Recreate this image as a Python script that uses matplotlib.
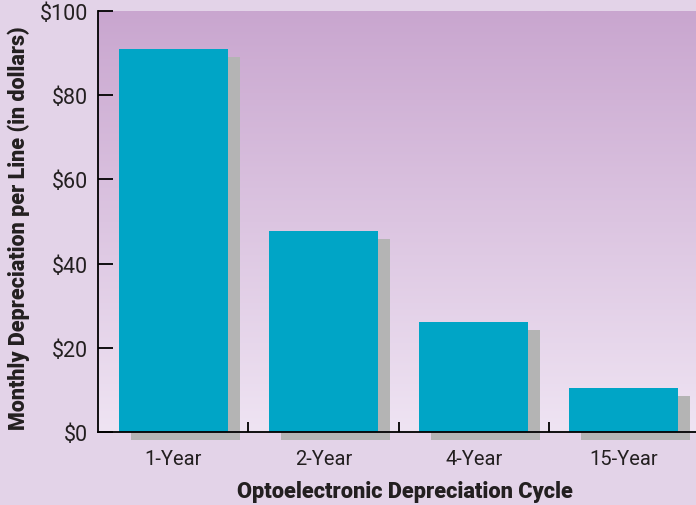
import numpy as np
import matplotlib
matplotlib.use("Agg")
from matplotlib import pyplot as plt
from matplotlib.colors import LinearSegmentedColormap

categories = ["1-Year", "2-Year", "4-Year", "15-Year"]
values = [91, 47.7, 26.1, 10.5]
y_ticks = [0, 20, 40, 60, 80, 100]
y_tick_labels = ["$0", "$20", "$40", "$60", "$80", "$100"]

TEAL = "#00a5c6"
SHADOW = "#b4b4b4"
FIG_BG = "#e3d3e8"
INK = "#231f20"

plt.rcParams["font.family"] = ["Roboto", "DejaVu Sans"]


def main():
    fig = plt.figure(figsize=(6.96, 5.06), dpi=100, facecolor=FIG_BG)
    ax = fig.add_axes([98 / 696, 73 / 506, 598 / 696, 421 / 506])
    ax.set_facecolor("none")

    # vertical gradient behind the bars
    cmap = LinearSegmentedColormap.from_list("bg", ["#efe4f3", "#c9a6cf"])
    grad = np.linspace(0, 1, 256).reshape(-1, 1)
    ax.imshow(grad, cmap=cmap, aspect="auto", origin="lower",
              extent=[0, 1, 0, 1], transform=ax.transAxes, zorder=0)

    x = np.arange(len(categories))
    width = 0.725
    dx, dy = 0.08, 1.9
    ax.bar(x + dx, values, width, bottom=-dy, color=SHADOW, zorder=2,
           clip_on=False)
    ax.bar(x, values, width, color=TEAL, zorder=3)

    ax.set_xlim(-0.5, 3.48)
    ax.set_ylim(0, 100)

    for side in ["top", "right"]:
        ax.spines[side].set_visible(False)
    for side in ["left", "bottom"]:
        ax.spines[side].set_linewidth(1.3)
        ax.spines[side].set_zorder(5)

    ax.set_yticks(y_ticks)
    ax.set_yticklabels(y_tick_labels)
    ax.tick_params(axis="y", direction="in", length=10.8, width=1.3,
                   pad=7, labelsize=15.5, labelcolor=INK)
    ax.set_xticks(x)
    ax.set_xticklabels(categories)
    ax.set_xticks([0.5, 1.5, 2.5], minor=True)
    ax.tick_params(axis="x", which="major", length=0, pad=12,
                   labelsize=14.5, labelcolor=INK)
    ax.tick_params(axis="x", which="minor", direction="in", length=7,
                   width=1.3)

    ax.set_xlabel("Optoelectronic Depreciation Cycle", fontsize=15.7,
                  fontweight="heavy", color=INK, va="center")
    ax.xaxis.set_label_coords(0.513, -0.14)
    ax.set_ylabel("Monthly Depreciation per Line (in dollars)", fontsize=15.5,
                  fontweight="heavy", color=INK, va="center")
    ax.yaxis.set_label_coords(-0.132, 0.487)

    fig.savefig("out.png", dpi=100, facecolor=FIG_BG)


if __name__ == "__main__":
    main()
